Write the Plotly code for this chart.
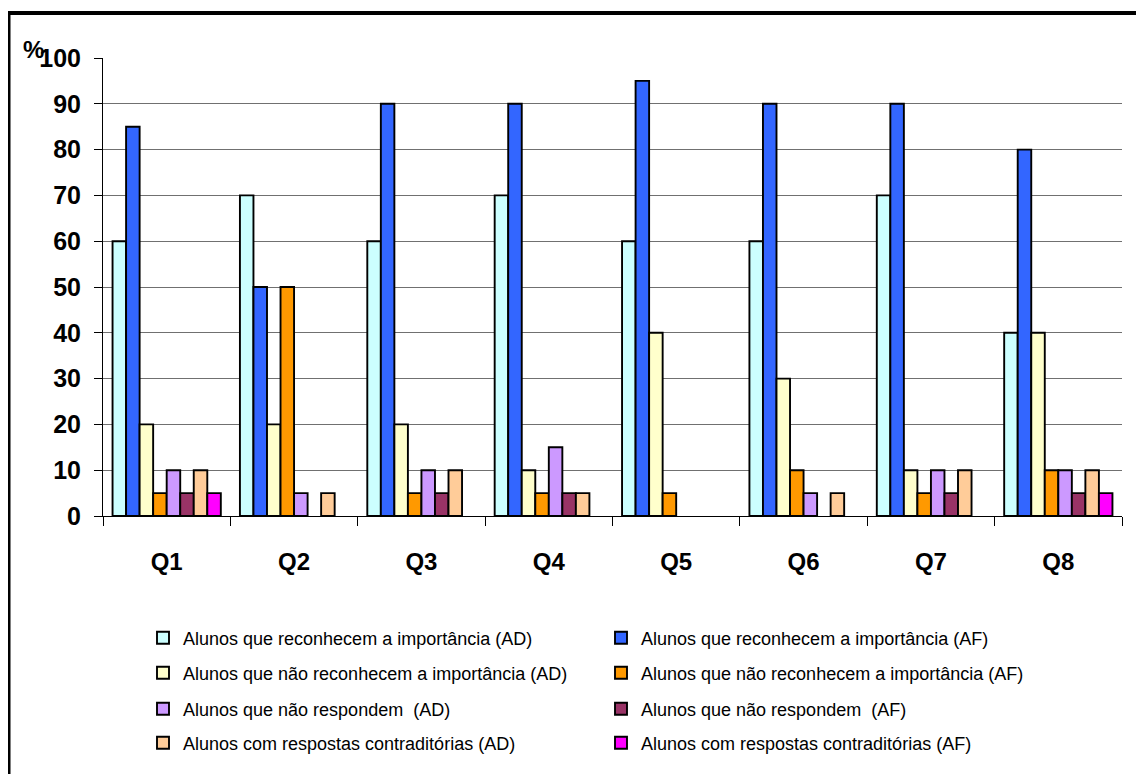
import plotly.graph_objects as go

categories = ["Q1", "Q2", "Q3", "Q4", "Q5", "Q6", "Q7", "Q8"]

series_names = [
    "Alunos que reconhecem a importância (AD)",
    "Alunos que reconhecem a importância (AF)",
    "Alunos que não reconhecem a importância (AD)",
    "Alunos que não reconhecem a importância (AF)",
    "Alunos que não respondem  (AD)",
    "Alunos que não respondem  (AF)",
    "Alunos com respostas contraditórias (AD)",
    "Alunos com respostas contraditórias (AF)",
]

rec_AD = [60, 70, 60, 70, 60, 60, 70, 40]
rec_AF = [85, 50, 90, 90, 95, 90, 90, 80]
nao_rec_AD = [20, 20, 20, 10, 40, 30, 10, 40]
nao_rec_AF = [5, 50, 5, 5, 5, 10, 5, 10]
nao_resp_AD = [10, 5, 10, 15, 0, 5, 10, 10]
nao_resp_AF = [5, 0, 5, 5, 0, 0, 5, 5]
contr_AD = [10, 5, 10, 5, 0, 5, 10, 10]
contr_AF = [5, 0, 0, 0, 0, 0, 0, 5]

series_values = [rec_AD, rec_AF, nao_rec_AD, nao_rec_AF,
                 nao_resp_AD, nao_resp_AF, contr_AD, contr_AF]

colors = ["#CCFFFF", "#3366FF", "#FFFFCC", "#FF9900",
          "#CC99FF", "#993366", "#FFCC99", "#FF00FF"]

y_ticks = [0, 10, 20, 30, 40, 50, 60, 70, 80, 90, 100]

OFF = 8
WIN_W, WIN_H = 1144, 774
W, H = WIN_W - OFF, WIN_H - OFF
PLOT_L, PLOT_R, PLOT_T, PLOT_B = 103, 1122, 58, 516  # window pixels
ML = PLOT_L - OFF
MR = W - (PLOT_R - OFF)
MT = PLOT_T - OFF
MB = H - (PLOT_B - OFF)
PW = W - ML - MR
PH = H - MT - MB


def px_x(p):
    return (p - OFF - ML) / PW


def px_y(p):
    return (PLOT_B - p) / PH


FONT = "Liberation Sans, Arial, sans-serif"

fig = go.Figure()

legend_rows_y = [638, 673, 709, 743]
legend_cols_x = [143, 601]
legend_layouts = {}

for i, (name, vals, col) in enumerate(zip(series_names, series_values, colors)):
    lname = "legend" if i == 0 else f"legend{i + 1}"
    fig.add_trace(go.Bar(
        x=categories,
        y=[v if v != 0 else None for v in vals],
        name=name,
        marker=dict(color=col, line=dict(color="black", width=1.9)),
        legend=lname,
        hoverinfo="x+y+name",
    ))
    legend_layouts[lname] = dict(
        x=px_x(legend_cols_x[i % 2]),
        y=px_y(legend_rows_y[i // 2]),
        xanchor="left",
        yanchor="middle",
        orientation="v",
        bgcolor="rgba(0,0,0,0)",
        borderwidth=0,
        font=dict(family=FONT, size=18, color="black"),
    )

fig.update_layout(
    width=W,
    height=H,
    margin=dict(l=ML, r=MR, t=MT, b=MB, pad=0),
    paper_bgcolor="white",
    plot_bgcolor="white",
    barmode="group",
    bargap=0.15,
    bargroupgap=0,
    showlegend=True,
    font=dict(family=FONT, color="black"),
    **legend_layouts,
)

fig.update_xaxes(
    type="category",
    tickson="boundaries",
    ticks="outside",
    ticklen=9,
    tickcolor="black",
    tickwidth=1,
    showline=True,
    linecolor="black",
    linewidth=1,
    showgrid=False,
    tickfont=dict(family=FONT, size=24, color="black", weight="bold"),
    ticklabelstandoff=24,
)

fig.update_yaxes(
    range=[0, 100],
    tickvals=y_ticks,
    ticktext=[str(t) for t in y_ticks],
    ticks="outside",
    ticklen=8,
    tickcolor="black",
    showline=True,
    linecolor="black",
    linewidth=1,
    showgrid=True,
    gridcolor="#707070",
    gridwidth=1,
    zeroline=False,
    tickfont=dict(family=FONT, size=25, color="black", weight="bold"),
    ticklabelstandoff=8,
)

fig.add_annotation(
    x=px_x(33), y=px_y(50), xref="paper", yref="paper",
    text="%", showarrow=False,
    font=dict(family=FONT, size=24, color="black", weight="bold"),
    xanchor="center", yanchor="middle",
)

fig.add_shape(
    type="rect", xref="paper", yref="paper",
    x0=px_x(8.5), x1=px_x(1170), y0=px_y(800), y1=px_y(13),
    line=dict(color="black", width=4),
    fillcolor="rgba(0,0,0,0)",
    layer="above",
)

fig.write_html("out.html")
